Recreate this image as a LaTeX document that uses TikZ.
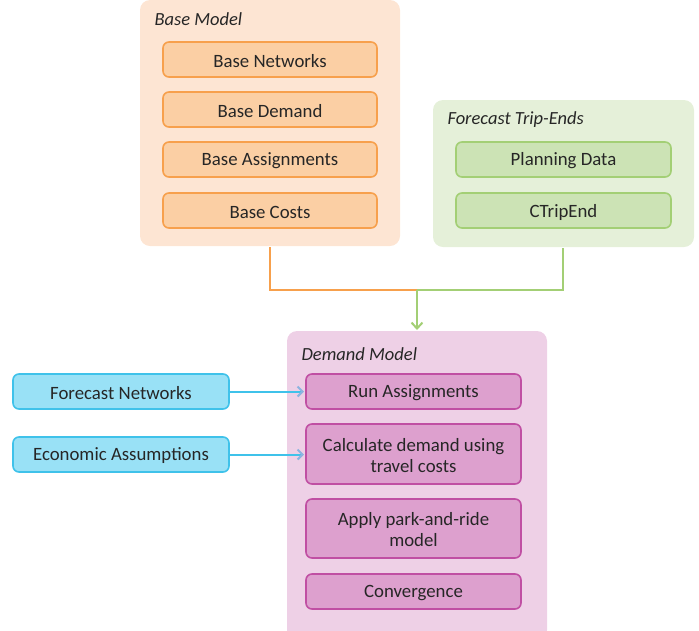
\documentclass[tikz,border=0pt]{standalone}
\usepackage{fontspec}
\setmainfont{Carlito}
\usetikzlibrary{arrows.meta}
\definecolor{orBg}{HTML}{FDE5D3}
\definecolor{orFill}{HTML}{FBCFA4}
\definecolor{orLine}{HTML}{F7A04C}
\definecolor{grBg}{HTML}{E5F0D9}
\definecolor{grFill}{HTML}{CCE3B5}
\definecolor{grLine}{HTML}{A3CF75}
\definecolor{puBg}{HTML}{EED0E6}
\definecolor{puFill}{HTML}{DDA0CE}
\definecolor{puLine}{HTML}{C04FA3}
\definecolor{blFill}{HTML}{99E1F6}
\definecolor{blLine}{HTML}{3FC2EA}
\definecolor{arTip}{HTML}{8CB4E0}
\tikzset{
  x=1pt, y=-1pt,
  container/.style={rounded corners=10pt, draw=none},
  item/.style={rounded corners=6pt, line width=1.6pt, font=\fontsize{18.8}{21}\selectfont, align=center, text=black!85},
  ttl/.style={anchor=west, font=\fontsize{18.5}{21}\selectfont\itshape, text=black!85},
}
\begin{document}
\begin{tikzpicture}
\useasboundingbox (0,0) rectangle (699,630);
% containers
\fill[orBg, container] (140,0) rectangle (400,246);
\fill[grBg, container] (433,100) rectangle (694,247);
\fill[puBg, container] (287,331) rectangle (547,640);
\node[ttl] (tb) at (151,19) {Base Model};
\node[ttl] (tf) at (444,120) {Forecast Trip-Ends};
\node[ttl] (td) at (298,354) {Demand Model};
% base items
\foreach \n/\t/\ya/\yb in {bn/Base Networks/42/77, bd/Base Demand/92/127, ba/Base Assignments/142/177, bc/Base Costs/193/228}{
  \draw[item, fill=orFill, draw=orLine] (163,\ya) rectangle (377,\yb);
  \node[item, draw=none] (\n) at (270,{(\ya+\yb)/2+1.5}) {\t};
}
\foreach \n/\t/\ya/\yb in {pd/Planning Data/142/177, ct/CTripEnd/193/228}{
  \draw[item, fill=grFill, draw=grLine] (456,\ya) rectangle (671,\yb);
  \node[item, draw=none] (\n) at (563.5,{(\ya+\yb)/2+1.5}) {\t};
}
\foreach \n/\t/\ya/\yb in {ra/Run Assignments/374/409, cd/{Calculate demand using\\travel costs}/424/484, ap/{Apply park-and-ride\\model}/499/558, cv/Convergence/574/609}{
  \draw[item, fill=puFill, draw=puLine] (306,\ya) rectangle (521,\yb);
  \node[item, draw=none] (\n) at (413.5,{(\ya+\yb)/2+1.5}) {\t};
  \coordinate (\n-w) at (306,{(\ya+\yb)/2});
}
\foreach \n/\t/\ya/\yb in {fn/Forecast Networks/374/409, ea/Economic Assumptions/437/472}{
  \draw[item, fill=blFill, draw=blLine] (13,\ya) rectangle (229,\yb);
  \node[item, draw=none] (\n) at (121,{(\ya+\yb)/2+1.5}) {\t};
  \coordinate (\n-e) at (229,{(\ya+\yb)/2});
}
% connectors
\coordinate (bout) at (270,247);
\coordinate (fout) at (563,248);
\coordinate (join) at (417,290);
\coordinate (din) at (417,330);
\draw[orLine, line width=2pt] (bout) |- (join);
\draw[grLine, line width=2pt] (fout) |- (join);
\draw[grLine, line width=2pt, -{Straight Barb[length=6pt, width=11pt, line width=2pt]}] (join) -- (din);
\draw[blLine, line width=2pt, -{Straight Barb[length=5pt, width=10pt, line width=2pt, color=arTip]}] (fn-e) -- (304,391.5);
\draw[blLine, line width=2pt, -{Straight Barb[length=5pt, width=10pt, line width=2pt, color=arTip]}] (ea-e) -- (304,454.5);
\end{tikzpicture}
\end{document}
